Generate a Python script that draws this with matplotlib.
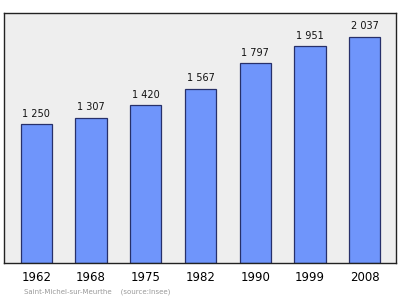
import matplotlib
matplotlib.use("Agg")
import matplotlib.pyplot as plt

# Population data
years = ["1962", "1968", "1975", "1982", "1990", "1999", "2008"]
population = [1250, 1307, 1420, 1567, 1797, 1951, 2037]
value_labels = ["1 250", "1 307", "1 420", "1 567", "1 797", "1 951", "2 037"]


def main() -> None:
    fig = plt.figure(figsize=(4.0, 2.99), dpi=100)
    ax = fig.add_axes([4 / 400, 1 - 263 / 299, 391.5 / 400, 250 / 299])
    ax.set_facecolor("#eeeeee")

    x = range(len(years))
    ax.bar(x, population, width=0.57, color="#6f95fb", edgecolor="#27306a", linewidth=0.9, zorder=2)

    for xi, val, lab in zip(x, population, value_labels):
        ax.annotate(lab, (xi, val), xytext=(0, 4), textcoords="offset points",
                    ha="center", va="bottom", fontsize=7, color="#111111")

    ax.set_xlim(-0.59, 6.56)
    ax.set_ylim(0, 2250)
    ax.set_yticks([])
    ax.set_xticks(list(x))
    ax.set_xticklabels(years, fontsize=8.5)
    ax.tick_params(axis="x", length=0, pad=6)

    for spine in ax.spines.values():
        spine.set_color("#222222")
        spine.set_linewidth(1.0)

    fig.text(24 / 400, 1 - 292 / 299, "Saint-Michel-sur-Meurthe    (source:Insee)",
             fontsize=5, color="#999999", ha="left", va="center")

    fig.savefig("out.png", dpi=100, facecolor="white")
    plt.close(fig)


if __name__ == "__main__":
    main()
